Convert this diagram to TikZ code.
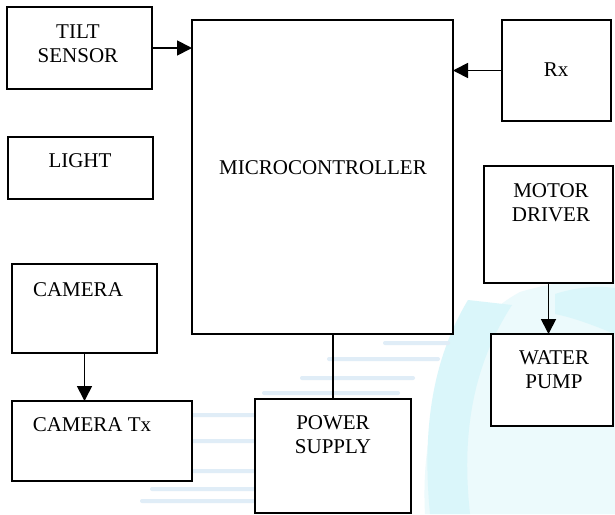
\documentclass[tikz,border=0pt]{standalone}
\usepackage{fontspec}
\setmainfont{Liberation Serif}
\usetikzlibrary{arrows.meta}
\definecolor{wmwash}{RGB}{236,250,252}
\definecolor{wmcyan}{RGB}{218,246,250}
\definecolor{wmblue}{RGB}{224,237,247}
\begin{document}
\begin{tikzpicture}[x=1pt,y=-1pt,
  blk/.style={draw=black, line width=1.5pt, fill=white, inner sep=0pt, outer sep=0pt},
  lbl/.style={font=\fontsize{21}{24}\selectfont, align=center, inner sep=0pt},
  arr/.style={line width=1.8pt, -{Triangle[length=15pt,width=15pt]}},
  wire/.style={line width=1.5pt},
  streak/.style={wmblue, rounded corners=2pt}]
\useasboundingbox[fill=white] (0,0) rectangle (615,514);
% faint watermark
\fill[wmwash] (425,514) .. controls (420,420) and (450,330) .. (520,292) .. controls (560,280) and (600,278) .. (615,280) -- (615,514) -- cycle;
\fill[wmcyan] (468,300) .. controls (432,360) and (422,430) .. (430,514) -- (470,514) .. controls (462,440) and (470,370) .. (512,305) -- cycle;
\fill[wmcyan] (555,294) .. controls (580,286) and (600,286) .. (615,288) -- (615,334) .. controls (595,326) and (575,318) .. (555,314) -- cycle;
\fill[streak] (383,341) rectangle (450,345);
\fill[streak] (327,357) rectangle (440,361);
\fill[streak] (300,376) rectangle (415,380);
\fill[streak] (262,391) rectangle (400,395);
\fill[streak] (170,413) rectangle (260,417);
\fill[streak] (185,439) rectangle (260,443);
\fill[streak] (165,469) rectangle (260,473);
\fill[streak] (150,487) rectangle (260,491);
\fill[streak] (140,499) rectangle (260,503);
% blocks
\node[blk, minimum width=145pt, minimum height=82pt]  (tilt)   at (79.5,48)  {};
\node[blk, minimum width=145pt, minimum height=62pt]  (light)  at (80.5,168) {};
\node[blk, minimum width=261pt, minimum height=314pt] (micro)  at (322.5,177) {};
\node[blk, minimum width=109pt, minimum height=101pt] (rx)     at (556.5,70.5) {};
\node[blk, minimum width=129pt, minimum height=117pt] (motor)  at (548.5,224.5) {};
\node[blk, minimum width=122pt, minimum height=92pt]  (pump)   at (552,380) {};
\node[blk, minimum width=145pt, minimum height=89pt]  (camera) at (84.5,308.5) {};
\node[blk, minimum width=180pt, minimum height=80pt]  (camtx)  at (102,441) {};
\node[blk, minimum width=156pt, minimum height=114pt] (power)  at (333,456) {};
% labels
\node[lbl] (tiltl)   at (78,44)   {TILT\\SENSOR};
\node[lbl] (lightl)  at (80,161)  {LIGHT};
\node[lbl] (microl)  at (323,168) {MICROCONTROLLER};
\node[lbl] (rxl)     at (556,70)  {Rx};
\node[lbl] (motorl)  at (551,203) {MOTOR\\DRIVER};
\node[lbl] (pumpl)   at (554,370) {WATER\\PUMP};
\node[lbl] (cameral) at (78,290)  {CAMERA};
\node[lbl] (camtxl)  at (92,425)  {CAMERA Tx};
\node[lbl] (powerl)  at (333,435) {POWER\\SUPPLY};
% connectors
\draw[arr] (tilt.east) -- (tilt.east -| micro.west);
\draw[arr] (rx.west) -- (rx.west -| micro.east);
\draw[arr] (camera.south) -- (camera.south |- camtx.north);
\draw[arr] (motor.south) -- (motor.south |- pump.north);
\draw[wire] (power.north) -- (power.north |- micro.south);
\end{tikzpicture}
\end{document}
